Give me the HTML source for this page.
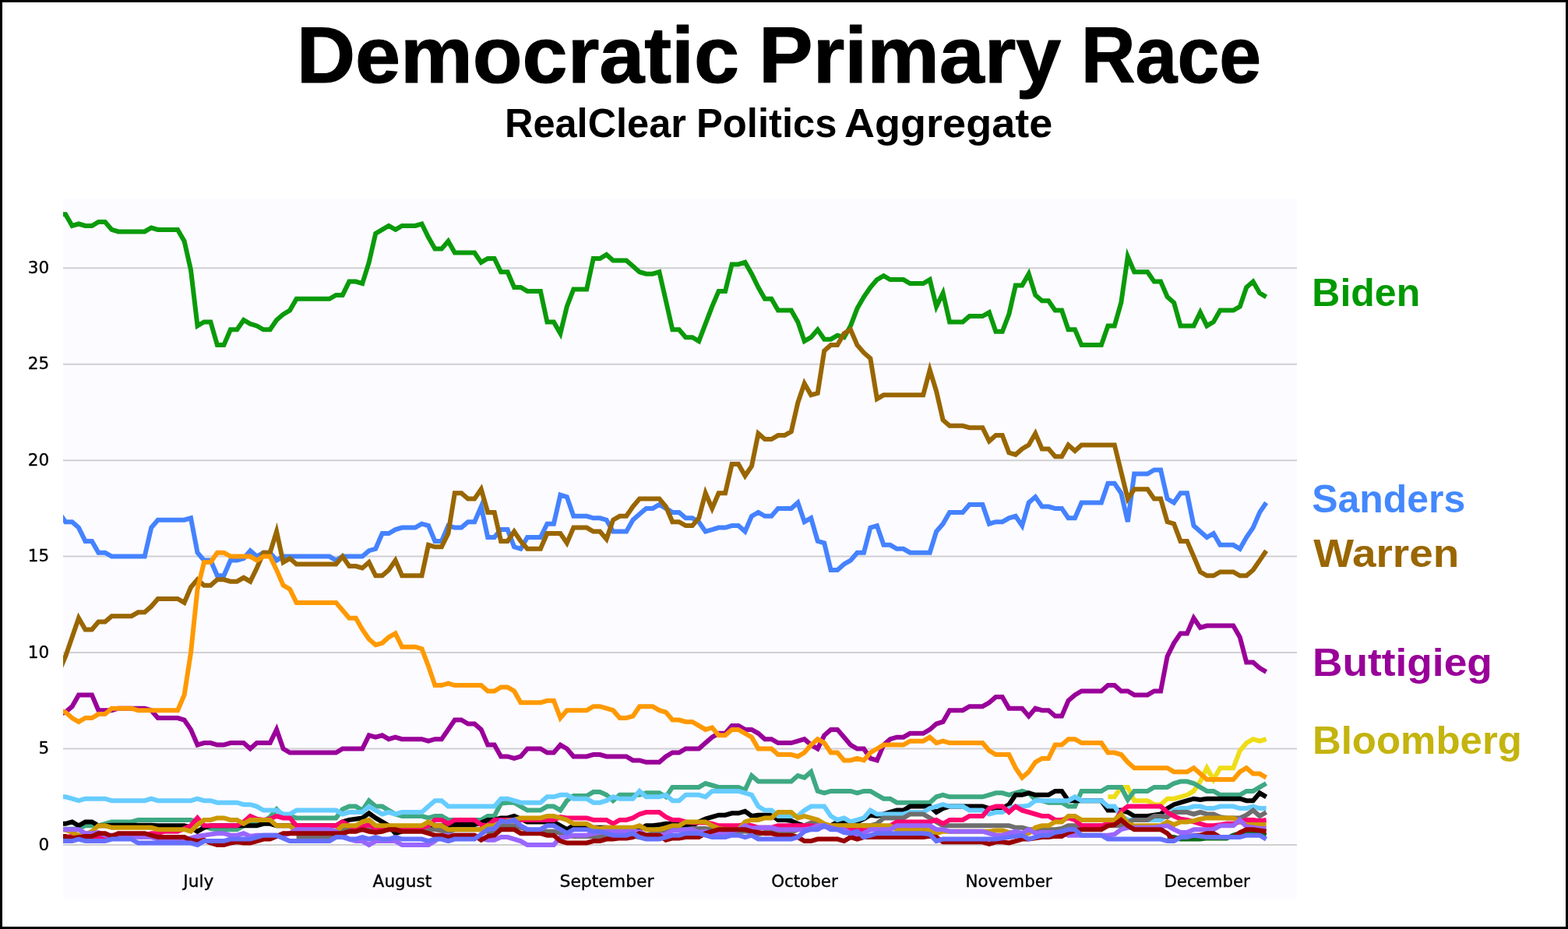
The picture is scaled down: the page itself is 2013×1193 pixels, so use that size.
<!DOCTYPE html>
<html lang="en"><head><meta charset="utf-8"><title>Democratic Primary Race</title>
<style>
html,body{margin:0;padding:0;background:#fff;}
body{width:2013px;height:1193px;overflow:hidden;}
svg{display:block;}
.title{font-family:"Liberation Sans","DejaVu Sans",sans-serif;font-weight:bold;fill:#000;stroke:#000;stroke-linejoin:round;}
.tick{font-family:"DejaVu Sans","Liberation Sans",sans-serif;font-size:21.5px;fill:#000;stroke:#000;stroke-width:0.35;}
.lab{font-family:"Liberation Sans","DejaVu Sans",sans-serif;font-weight:bold;font-size:49.6px;}
.ln{fill:none;stroke-width:6.0;stroke-linejoin:miter;stroke-linecap:butt;}
.grid{stroke:#d0d0d3;stroke-width:2;}
</style></head><body>
<svg width="2013" height="1193" viewBox="0 0 2013 1193">
<rect x="0" y="0" width="2013" height="1193" fill="#ffffff"/>
<rect x="81" y="255" width="1584" height="900" fill="#fcfbff"/>
<line class="grid" x1="81" x2="1665" y1="1085.0" y2="1085.0"/>
<text class="tick" x="63.2" y="1091.6" text-anchor="end">0</text>
<line class="grid" x1="81" x2="1665" y1="961.5" y2="961.5"/>
<text class="tick" x="63.2" y="968.1" text-anchor="end">5</text>
<line class="grid" x1="81" x2="1665" y1="838.1" y2="838.1"/>
<text class="tick" x="63.2" y="844.7" text-anchor="end">10</text>
<line class="grid" x1="81" x2="1665" y1="714.6" y2="714.6"/>
<text class="tick" x="63.2" y="721.2" text-anchor="end">15</text>
<line class="grid" x1="81" x2="1665" y1="591.2" y2="591.2"/>
<text class="tick" x="63.2" y="597.8" text-anchor="end">20</text>
<line class="grid" x1="81" x2="1665" y1="467.8" y2="467.8"/>
<text class="tick" x="63.2" y="474.4" text-anchor="end">25</text>
<line class="grid" x1="81" x2="1665" y1="344.3" y2="344.3"/>
<text class="tick" x="63.2" y="350.9" text-anchor="end">30</text>
<text class="tick" x="235.3" y="1138.6" textLength="38.9" lengthAdjust="spacingAndGlyphs">July</text>
<text class="tick" x="478.6" y="1138.6" textLength="75.7" lengthAdjust="spacingAndGlyphs">August</text>
<text class="tick" x="718.5" y="1138.6" textLength="121.0" lengthAdjust="spacingAndGlyphs">September</text>
<text class="tick" x="990.2" y="1138.6" textLength="85.5" lengthAdjust="spacingAndGlyphs">October</text>
<text class="tick" x="1239.6" y="1138.6" textLength="111.0" lengthAdjust="spacingAndGlyphs">November</text>
<text class="tick" x="1494.4" y="1138.6" textLength="110.4" lengthAdjust="spacingAndGlyphs">December</text>
<clipPath id="c"><rect x="81" y="255" width="1584" height="900"/></clipPath>
<g clip-path="url(#c)">
<polyline class="ln" stroke="#0a9a0a" points="75.6,275.2 84.1,275.2 92.6,290.0 101.0,287.5 109.5,290.0 118.0,290.0 126.4,285.0 134.9,285.0 143.4,294.9 151.9,297.4 160.3,297.4 168.8,297.4 177.3,297.4 185.7,297.4 194.2,292.5 202.7,294.9 211.2,294.9 219.6,294.9 228.1,294.9 236.6,309.7 245.0,346.8 253.5,418.4 262.0,413.4 270.4,413.4 278.9,443.1 287.4,443.1 295.9,423.3 304.3,423.3 312.8,411.0 321.3,415.9 329.7,418.4 338.2,423.3 346.7,423.3 355.1,411.0 363.6,403.6 372.1,398.6 380.6,383.8 389.0,383.8 397.5,383.8 406.0,383.8 414.4,383.8 422.9,383.8 431.4,378.9 439.8,378.9 448.3,361.6 456.8,361.6 465.2,364.1 473.7,336.9 482.2,299.9 490.7,294.9 499.1,290.0 507.6,294.9 516.1,290.0 524.5,290.0 533.0,290.0 541.5,287.5 550.0,304.8 558.4,319.6 566.9,319.6 575.4,309.7 583.8,324.5 592.3,324.5 600.8,324.5 609.2,324.5 617.7,336.9 626.2,332.0 634.7,332.0 643.1,349.2 651.6,349.2 660.1,369.0 668.5,369.0 677.0,373.9 685.5,373.9 693.9,373.9 702.4,413.4 710.9,413.4 719.4,428.2 727.8,393.7 736.3,371.5 744.8,371.5 753.2,371.5 761.7,332.0 770.2,332.0 778.6,327.0 787.1,334.4 795.6,334.4 804.1,334.4 812.5,341.8 821.0,349.2 829.5,351.7 837.9,351.7 846.4,349.2 854.9,386.3 863.3,423.3 871.8,423.3 880.3,433.2 888.8,433.2 897.2,438.1 905.7,415.9 914.2,393.7 922.6,373.9 931.1,373.9 939.6,339.4 948.0,339.4 956.5,336.9 965.0,351.7 973.5,369.0 981.9,383.8 990.4,383.8 998.9,398.6 1007.3,398.6 1015.8,398.6 1024.3,413.4 1032.7,438.1 1041.2,433.2 1049.7,423.3 1058.2,435.7 1066.6,435.7 1075.1,430.7 1083.6,433.2 1092.0,418.4 1100.5,396.1 1109.0,381.3 1117.4,369.0 1125.9,359.1 1134.4,354.2 1142.8,359.1 1151.3,359.1 1159.8,359.1 1168.3,364.1 1176.7,364.1 1185.2,364.1 1193.7,359.1 1202.1,393.7 1210.6,376.4 1219.1,413.4 1227.6,413.4 1236.0,413.4 1244.5,406.0 1253.0,406.0 1261.4,406.0 1269.9,401.1 1278.4,425.8 1286.8,425.8 1295.3,403.6 1303.8,366.5 1312.2,366.5 1320.7,351.7 1329.2,378.9 1337.7,386.3 1346.1,386.3 1354.6,398.6 1363.1,398.6 1371.5,423.3 1380.0,423.3 1388.5,443.1 1397.0,443.1 1405.4,443.1 1413.9,443.1 1422.4,418.4 1430.8,418.4 1439.3,388.7 1447.8,329.5 1456.2,349.2 1464.7,349.2 1473.2,349.2 1481.7,361.6 1490.1,361.6 1498.6,381.3 1507.1,388.7 1515.5,418.4 1524.0,418.4 1532.5,418.4 1540.9,401.1 1549.4,418.4 1557.9,413.4 1566.4,398.6 1574.8,398.6 1583.3,398.6 1591.8,393.7 1600.2,369.0 1608.7,361.6 1617.2,376.4 1625.6,381.3"/>
<polyline class="ln" stroke="#eedd16" points="1422.4,1023.3 1430.8,1023.3 1439.3,1010.9 1447.8,1010.9 1456.2,1028.2 1464.7,1028.2 1473.2,1028.2 1481.7,1033.2 1490.1,1033.2 1498.6,1025.7 1507.1,1025.7 1515.5,1023.3 1524.0,1020.8 1532.5,1015.9 1540.9,1003.5 1549.4,986.2 1557.9,1001.1 1566.4,986.2 1574.8,986.2 1583.3,986.2 1591.8,964.0 1600.2,954.1 1608.7,949.2 1617.2,951.7 1625.6,949.2"/>
<polyline class="ln" stroke="#4482ff" points="75.6,657.9 84.1,670.2 92.6,670.2 101.0,677.6 109.5,694.9 118.0,694.9 126.4,709.7 134.9,709.7 143.4,714.6 151.9,714.6 160.3,714.6 168.8,714.6 177.3,714.6 185.7,714.6 194.2,677.6 202.7,667.7 211.2,667.7 219.6,667.7 228.1,667.7 236.6,667.7 245.0,665.3 253.5,709.7 262.0,719.6 270.4,719.6 278.9,739.3 287.4,739.3 295.9,719.6 304.3,719.6 312.8,717.1 321.3,707.2 329.7,714.6 338.2,709.7 346.7,709.7 355.1,719.6 363.6,714.6 372.1,714.6 380.6,714.6 389.0,714.6 397.5,714.6 406.0,714.6 414.4,714.6 422.9,714.6 431.4,719.6 439.8,714.6 448.3,714.6 456.8,714.6 465.2,714.6 473.7,707.2 482.2,704.8 490.7,685.0 499.1,685.0 507.6,680.1 516.1,677.6 524.5,677.6 533.0,677.6 541.5,672.7 550.0,675.1 558.4,694.9 566.9,694.9 575.4,675.1 583.8,677.6 592.3,677.6 600.8,670.2 609.2,670.2 617.7,650.5 626.2,690.0 634.7,690.0 643.1,680.1 651.6,680.1 660.1,702.3 668.5,704.8 677.0,690.0 685.5,690.0 693.9,690.0 702.4,672.7 710.9,672.7 719.4,635.6 727.8,638.1 736.3,662.8 744.8,662.8 753.2,662.8 761.7,665.3 770.2,665.3 778.6,667.7 787.1,682.6 795.6,682.6 804.1,682.6 812.5,667.7 821.0,660.3 829.5,652.9 837.9,652.9 846.4,648.0 854.9,652.9 863.3,657.9 871.8,657.9 880.3,665.3 888.8,665.3 897.2,670.2 905.7,682.6 914.2,680.1 922.6,677.6 931.1,677.6 939.6,675.1 948.0,675.1 956.5,682.6 965.0,662.8 973.5,657.9 981.9,662.8 990.4,662.8 998.9,652.9 1007.3,652.9 1015.8,652.9 1024.3,645.5 1032.7,670.2 1041.2,665.3 1049.7,694.9 1058.2,697.4 1066.6,731.9 1075.1,731.9 1083.6,724.5 1092.0,719.6 1100.5,709.7 1109.0,709.7 1117.4,677.6 1125.9,675.1 1134.4,699.8 1142.8,699.8 1151.3,704.8 1159.8,704.8 1168.3,709.7 1176.7,709.7 1185.2,709.7 1193.7,709.7 1202.1,682.6 1210.6,672.7 1219.1,657.9 1227.6,657.9 1236.0,657.9 1244.5,648.0 1253.0,648.0 1261.4,648.0 1269.9,672.7 1278.4,670.2 1286.8,670.2 1295.3,665.3 1303.8,662.8 1312.2,675.1 1320.7,645.5 1329.2,638.1 1337.7,650.5 1346.1,650.5 1354.6,652.9 1363.1,652.9 1371.5,665.3 1380.0,665.3 1388.5,645.5 1397.0,645.5 1405.4,645.5 1413.9,645.5 1422.4,620.8 1430.8,620.8 1439.3,633.2 1447.8,670.2 1456.2,608.5 1464.7,608.5 1473.2,608.5 1481.7,603.5 1490.1,603.5 1498.6,640.6 1507.1,645.5 1515.5,633.2 1524.0,633.2 1532.5,675.1 1540.9,682.6 1549.4,690.0 1557.9,685.0 1566.4,699.8 1574.8,699.8 1583.3,699.8 1591.8,704.8 1600.2,690.0 1608.7,677.6 1617.2,657.9 1625.6,645.5"/>
<polyline class="ln" stroke="#996600" points="75.6,862.8 84.1,843.0 92.6,818.3 101.0,793.7 109.5,808.5 118.0,808.5 126.4,798.6 134.9,798.6 143.4,791.2 151.9,791.2 160.3,791.2 168.8,791.2 177.3,786.3 185.7,786.3 194.2,778.8 202.7,769.0 211.2,769.0 219.6,769.0 228.1,769.0 236.6,773.9 245.0,754.2 253.5,744.3 262.0,751.7 270.4,751.7 278.9,744.3 287.4,744.3 295.9,746.7 304.3,746.7 312.8,741.8 321.3,746.7 329.7,729.5 338.2,709.7 346.7,709.7 355.1,682.6 363.6,722.1 372.1,717.1 380.6,724.5 389.0,724.5 397.5,724.5 406.0,724.5 414.4,724.5 422.9,724.5 431.4,724.5 439.8,714.6 448.3,727.0 456.8,727.0 465.2,729.5 473.7,722.1 482.2,739.3 490.7,739.3 499.1,731.9 507.6,719.6 516.1,739.3 524.5,739.3 533.0,739.3 541.5,739.3 550.0,699.8 558.4,702.3 566.9,702.3 575.4,685.0 583.8,633.2 592.3,633.2 600.8,640.6 609.2,640.6 617.7,628.2 626.2,657.9 634.7,657.9 643.1,694.9 651.6,694.9 660.1,682.6 668.5,694.9 677.0,704.8 685.5,704.8 693.9,704.8 702.4,685.0 710.9,685.0 719.4,685.0 727.8,697.4 736.3,677.6 744.8,677.6 753.2,677.6 761.7,682.6 770.2,682.6 778.6,692.4 787.1,667.7 795.6,662.8 804.1,662.8 812.5,650.5 821.0,640.6 829.5,640.6 837.9,640.6 846.4,640.6 854.9,650.5 863.3,670.2 871.8,670.2 880.3,675.1 888.8,675.1 897.2,665.3 905.7,633.2 914.2,652.9 922.6,633.2 931.1,633.2 939.6,596.1 948.0,596.1 956.5,611.0 965.0,598.6 973.5,556.6 981.9,564.0 990.4,564.0 998.9,559.1 1007.3,559.1 1015.8,554.2 1024.3,517.1 1032.7,492.4 1041.2,507.3 1049.7,504.8 1058.2,450.5 1066.6,443.1 1075.1,443.1 1083.6,428.2 1092.0,423.3 1100.5,443.1 1109.0,452.9 1117.4,460.3 1125.9,512.2 1134.4,507.3 1142.8,507.3 1151.3,507.3 1159.8,507.3 1168.3,507.3 1176.7,507.3 1185.2,507.3 1193.7,475.2 1202.1,502.3 1210.6,539.4 1219.1,546.8 1227.6,546.8 1236.0,546.8 1244.5,549.2 1253.0,549.2 1261.4,549.2 1269.9,566.5 1278.4,559.1 1286.8,559.1 1295.3,581.3 1303.8,583.8 1312.2,576.4 1320.7,571.4 1329.2,556.6 1337.7,576.4 1346.1,576.4 1354.6,586.3 1363.1,586.3 1371.5,571.4 1380.0,578.9 1388.5,571.4 1397.0,571.4 1405.4,571.4 1413.9,571.4 1422.4,571.4 1430.8,571.4 1439.3,606.0 1447.8,640.6 1456.2,628.2 1464.7,628.2 1473.2,628.2 1481.7,640.6 1490.1,640.6 1498.6,670.2 1507.1,672.7 1515.5,694.9 1524.0,694.9 1532.5,714.6 1540.9,734.4 1549.4,739.3 1557.9,739.3 1566.4,734.4 1574.8,734.4 1583.3,734.4 1591.8,739.3 1600.2,739.3 1608.7,731.9 1617.2,719.6 1625.6,707.2"/>
<polyline class="ln" stroke="#990099" points="75.6,917.1 84.1,914.6 92.6,907.2 101.0,892.4 109.5,892.4 118.0,892.4 126.4,912.2 134.9,912.2 143.4,912.2 151.9,909.7 160.3,909.7 168.8,909.7 177.3,909.7 185.7,909.7 194.2,912.2 202.7,922.0 211.2,922.0 219.6,922.0 228.1,922.0 236.6,924.5 245.0,936.9 253.5,956.6 262.0,954.1 270.4,954.1 278.9,956.6 287.4,956.6 295.9,954.1 304.3,954.1 312.8,954.1 321.3,961.5 329.7,954.1 338.2,954.1 346.7,954.1 355.1,936.9 363.6,961.5 372.1,966.5 380.6,966.5 389.0,966.5 397.5,966.5 406.0,966.5 414.4,966.5 422.9,966.5 431.4,966.5 439.8,961.5 448.3,961.5 456.8,961.5 465.2,961.5 473.7,944.3 482.2,946.7 490.7,944.3 499.1,949.2 507.6,946.7 516.1,949.2 524.5,949.2 533.0,949.2 541.5,949.2 550.0,951.7 558.4,949.2 566.9,949.2 575.4,936.9 583.8,924.5 592.3,924.5 600.8,929.5 609.2,929.5 617.7,936.9 626.2,956.6 634.7,956.6 643.1,971.4 651.6,971.4 660.1,973.9 668.5,971.4 677.0,961.5 685.5,961.5 693.9,961.5 702.4,966.5 710.9,966.5 719.4,956.6 727.8,961.5 736.3,971.4 744.8,971.4 753.2,971.4 761.7,969.0 770.2,969.0 778.6,971.4 787.1,971.4 795.6,971.4 804.1,971.4 812.5,976.4 821.0,976.4 829.5,978.8 837.9,978.8 846.4,978.8 854.9,971.4 863.3,966.5 871.8,966.5 880.3,961.5 888.8,961.5 897.2,961.5 905.7,954.1 914.2,946.7 922.6,941.8 931.1,941.8 939.6,931.9 948.0,931.9 956.5,936.9 965.0,936.9 973.5,941.8 981.9,949.2 990.4,949.2 998.9,954.1 1007.3,954.1 1015.8,954.1 1024.3,951.7 1032.7,949.2 1041.2,956.6 1049.7,961.5 1058.2,944.3 1066.6,936.9 1075.1,936.9 1083.6,946.7 1092.0,956.6 1100.5,961.5 1109.0,961.5 1117.4,973.9 1125.9,976.4 1134.4,956.6 1142.8,949.2 1151.3,946.7 1159.8,946.7 1168.3,941.8 1176.7,941.8 1185.2,941.8 1193.7,936.9 1202.1,929.5 1210.6,927.0 1219.1,912.2 1227.6,912.2 1236.0,912.2 1244.5,907.2 1253.0,907.2 1261.4,907.2 1269.9,902.3 1278.4,894.9 1286.8,894.9 1295.3,909.7 1303.8,909.7 1312.2,909.7 1320.7,919.6 1329.2,909.7 1337.7,912.2 1346.1,912.2 1354.6,919.6 1363.1,919.6 1371.5,899.8 1380.0,892.4 1388.5,887.5 1397.0,887.5 1405.4,887.5 1413.9,887.5 1422.4,880.1 1430.8,880.1 1439.3,887.5 1447.8,887.5 1456.2,892.4 1464.7,892.4 1473.2,892.4 1481.7,887.5 1490.1,887.5 1498.6,843.0 1507.1,825.8 1515.5,813.4 1524.0,813.4 1532.5,793.7 1540.9,806.0 1549.4,803.5 1557.9,803.5 1566.4,803.5 1574.8,803.5 1583.3,803.5 1591.8,818.3 1600.2,850.4 1608.7,850.4 1617.2,857.9 1625.6,862.8"/>
<polyline class="ln" stroke="#ff9900" points="75.6,912.2 84.1,914.6 92.6,922.0 101.0,927.0 109.5,922.0 118.0,922.0 126.4,917.1 134.9,917.1 143.4,909.7 151.9,909.7 160.3,909.7 168.8,909.7 177.3,912.2 185.7,912.2 194.2,912.2 202.7,912.2 211.2,912.2 219.6,912.2 228.1,912.2 236.6,892.4 245.0,838.1 253.5,756.6 262.0,722.1 270.4,722.1 278.9,709.7 287.4,709.7 295.9,714.6 304.3,714.6 312.8,714.6 321.3,714.6 329.7,719.6 338.2,714.6 346.7,714.6 355.1,731.9 363.6,751.7 372.1,756.6 380.6,773.9 389.0,773.9 397.5,773.9 406.0,773.9 414.4,773.9 422.9,773.9 431.4,773.9 439.8,783.8 448.3,793.7 456.8,793.7 465.2,808.5 473.7,820.8 482.2,828.2 490.7,825.8 499.1,818.3 507.6,813.4 516.1,830.7 524.5,830.7 533.0,830.7 541.5,833.2 550.0,855.4 558.4,880.1 566.9,880.1 575.4,877.6 583.8,880.1 592.3,880.1 600.8,880.1 609.2,880.1 617.7,880.1 626.2,887.5 634.7,887.5 643.1,882.5 651.6,882.5 660.1,887.5 668.5,902.3 677.0,902.3 685.5,902.3 693.9,902.3 702.4,899.8 710.9,899.8 719.4,922.0 727.8,912.2 736.3,912.2 744.8,912.2 753.2,912.2 761.7,907.2 770.2,907.2 778.6,909.7 787.1,912.2 795.6,922.0 804.1,922.0 812.5,919.6 821.0,907.2 829.5,907.2 837.9,907.2 846.4,912.2 854.9,914.6 863.3,924.5 871.8,924.5 880.3,927.0 888.8,927.0 897.2,931.9 905.7,936.9 914.2,934.4 922.6,944.3 931.1,944.3 939.6,936.9 948.0,936.9 956.5,941.8 965.0,946.7 973.5,961.5 981.9,961.5 990.4,961.5 998.9,969.0 1007.3,969.0 1015.8,969.0 1024.3,971.4 1032.7,966.5 1041.2,956.6 1049.7,949.2 1058.2,954.1 1066.6,966.5 1075.1,966.5 1083.6,976.4 1092.0,976.4 1100.5,973.9 1109.0,976.4 1117.4,966.5 1125.9,961.5 1134.4,956.6 1142.8,956.6 1151.3,956.6 1159.8,956.6 1168.3,951.7 1176.7,951.7 1185.2,951.7 1193.7,946.7 1202.1,954.1 1210.6,951.7 1219.1,954.1 1227.6,954.1 1236.0,954.1 1244.5,954.1 1253.0,954.1 1261.4,954.1 1269.9,964.0 1278.4,969.0 1286.8,969.0 1295.3,969.0 1303.8,986.2 1312.2,998.6 1320.7,991.2 1329.2,978.8 1337.7,973.9 1346.1,973.9 1354.6,956.6 1363.1,956.6 1371.5,949.2 1380.0,949.2 1388.5,954.1 1397.0,954.1 1405.4,954.1 1413.9,954.1 1422.4,966.5 1430.8,966.5 1439.3,969.0 1447.8,978.8 1456.2,986.2 1464.7,986.2 1473.2,986.2 1481.7,986.2 1490.1,986.2 1498.6,986.2 1507.1,991.2 1515.5,991.2 1524.0,991.2 1532.5,986.2 1540.9,993.6 1549.4,1001.1 1557.9,1001.1 1566.4,1001.1 1574.8,1001.1 1583.3,1001.1 1591.8,991.2 1600.2,986.2 1608.7,993.6 1617.2,993.6 1625.6,998.6"/>
<polyline class="ln" stroke="#3ea983" points="75.6,1064.8 84.1,1064.8 92.6,1064.8 101.0,1064.0 109.5,1060.3 118.0,1060.3 126.4,1060.3 134.9,1057.8 143.4,1055.4 151.9,1055.4 160.3,1055.4 168.8,1055.4 177.3,1052.9 185.7,1052.9 194.2,1052.9 202.7,1052.9 211.2,1052.9 219.6,1052.9 228.1,1052.9 236.6,1052.9 245.0,1052.9 253.5,1055.4 262.0,1060.3 270.4,1064.0 278.9,1065.2 287.4,1065.2 295.9,1065.2 304.3,1065.2 312.8,1060.3 321.3,1055.4 329.7,1055.4 338.2,1055.4 346.7,1049.2 355.1,1039.3 363.6,1048.0 372.1,1048.0 380.6,1050.4 389.0,1050.4 397.5,1050.4 406.0,1050.4 414.4,1050.4 422.9,1050.4 431.4,1050.4 439.8,1039.3 448.3,1035.6 456.8,1035.6 465.2,1040.6 473.7,1028.2 482.2,1035.6 490.7,1035.6 499.1,1040.6 507.6,1045.5 516.1,1048.0 524.5,1048.0 533.0,1048.0 541.5,1048.0 550.0,1050.4 558.4,1048.0 566.9,1048.0 575.4,1052.9 583.8,1052.9 592.3,1052.9 600.8,1052.9 609.2,1052.9 617.7,1052.9 626.2,1048.0 634.7,1048.0 643.1,1031.9 651.6,1030.7 660.1,1030.7 668.5,1035.6 677.0,1040.6 685.5,1040.6 693.9,1040.6 702.4,1035.6 710.9,1035.6 719.4,1040.6 727.8,1028.2 736.3,1022.0 744.8,1022.0 753.2,1022.0 761.7,1017.1 770.2,1017.1 778.6,1020.8 787.1,1028.2 795.6,1020.8 804.1,1020.8 812.5,1020.8 821.0,1020.8 829.5,1018.3 837.9,1018.3 846.4,1018.3 854.9,1023.3 863.3,1010.9 871.8,1010.9 880.3,1010.9 888.8,1010.9 897.2,1010.9 905.7,1006.0 914.2,1008.5 922.6,1010.9 931.1,1010.9 939.6,1010.9 948.0,1010.9 956.5,1014.6 965.0,996.1 973.5,1003.5 981.9,1003.5 990.4,1003.5 998.9,1003.5 1007.3,1003.5 1015.8,1003.5 1024.3,996.1 1032.7,998.6 1041.2,991.2 1049.7,1015.9 1058.2,1018.3 1066.6,1015.9 1075.1,1015.9 1083.6,1015.9 1092.0,1015.9 1100.5,1018.3 1109.0,1015.9 1117.4,1015.9 1125.9,1020.8 1134.4,1025.7 1142.8,1025.7 1151.3,1030.7 1159.8,1030.7 1168.3,1030.7 1176.7,1030.7 1185.2,1030.7 1193.7,1030.7 1202.1,1023.3 1210.6,1020.8 1219.1,1023.3 1227.6,1023.3 1236.0,1023.3 1244.5,1023.3 1253.0,1023.3 1261.4,1023.3 1269.9,1020.8 1278.4,1018.3 1286.8,1018.3 1295.3,1020.8 1303.8,1018.3 1312.2,1015.9 1320.7,1018.3 1329.2,1027.0 1337.7,1028.2 1346.1,1030.7 1354.6,1030.7 1363.1,1030.7 1371.5,1035.6 1380.0,1035.6 1388.5,1015.9 1397.0,1015.9 1405.4,1015.9 1413.9,1015.9 1422.4,1010.9 1430.8,1010.9 1439.3,1010.9 1447.8,1027.0 1456.2,1015.9 1464.7,1015.9 1473.2,1015.9 1481.7,1010.9 1490.1,1010.9 1498.6,1010.9 1507.1,1006.0 1515.5,1003.5 1524.0,1003.5 1532.5,1006.0 1540.9,1010.9 1549.4,1015.9 1557.9,1015.9 1566.4,1020.8 1574.8,1020.8 1583.3,1020.8 1591.8,1020.8 1600.2,1015.9 1608.7,1015.9 1617.2,1010.9 1625.6,1006.0"/>
<polyline class="ln" stroke="#000000" points="75.6,1057.8 84.1,1057.8 92.6,1055.4 101.0,1060.3 109.5,1055.4 118.0,1055.4 126.4,1060.3 134.9,1060.3 143.4,1059.8 151.9,1059.8 160.3,1059.8 168.8,1059.8 177.3,1059.8 185.7,1059.8 194.2,1059.8 202.7,1060.3 211.2,1060.3 219.6,1060.3 228.1,1060.3 236.6,1060.3 245.0,1062.8 253.5,1067.7 262.0,1062.8 270.4,1060.3 278.9,1060.3 287.4,1060.3 295.9,1060.3 304.3,1060.3 312.8,1060.3 321.3,1060.3 329.7,1060.3 338.2,1057.8 346.7,1057.8 355.1,1060.3 363.6,1060.3 372.1,1060.3 380.6,1060.3 389.0,1060.3 397.5,1060.3 406.0,1060.3 414.4,1060.3 422.9,1060.3 431.4,1060.3 439.8,1055.4 448.3,1052.9 456.8,1051.7 465.2,1050.4 473.7,1044.3 482.2,1050.4 490.7,1055.4 499.1,1060.3 507.6,1070.2 516.1,1067.7 524.5,1065.2 533.0,1065.2 541.5,1065.2 550.0,1065.2 558.4,1060.3 566.9,1060.3 575.4,1060.3 583.8,1059.1 592.3,1059.1 600.8,1059.1 609.2,1059.1 617.7,1056.6 626.2,1052.9 634.7,1052.9 643.1,1050.4 651.6,1050.4 660.1,1048.0 668.5,1051.7 677.0,1055.4 685.5,1055.4 693.9,1055.4 702.4,1055.4 710.9,1055.4 719.4,1060.3 727.8,1065.2 736.3,1060.3 744.8,1062.8 753.2,1062.8 761.7,1062.8 770.2,1062.8 778.6,1062.8 787.1,1066.5 795.6,1066.5 804.1,1066.5 812.5,1066.5 821.0,1065.2 829.5,1060.3 837.9,1060.3 846.4,1059.1 854.9,1057.8 863.3,1057.8 871.8,1059.1 880.3,1060.3 888.8,1060.3 897.2,1055.4 905.7,1051.7 914.2,1049.2 922.6,1046.7 931.1,1046.7 939.6,1044.3 948.0,1044.3 956.5,1041.8 965.0,1048.0 973.5,1046.7 981.9,1046.7 990.4,1046.7 998.9,1052.9 1007.3,1052.9 1015.8,1054.1 1024.3,1057.8 1032.7,1060.3 1041.2,1060.3 1049.7,1060.3 1058.2,1060.3 1066.6,1060.3 1075.1,1055.4 1083.6,1055.4 1092.0,1057.8 1100.5,1055.4 1109.0,1051.7 1117.4,1046.7 1125.9,1048.0 1134.4,1045.5 1142.8,1043.0 1151.3,1040.6 1159.8,1040.6 1168.3,1035.6 1176.7,1035.6 1185.2,1035.6 1193.7,1035.6 1202.1,1043.0 1210.6,1038.1 1219.1,1035.6 1227.6,1035.6 1236.0,1035.6 1244.5,1035.6 1253.0,1035.6 1261.4,1035.6 1269.9,1038.1 1278.4,1038.1 1286.8,1038.1 1295.3,1033.2 1303.8,1020.8 1312.2,1020.8 1320.7,1018.3 1329.2,1020.8 1337.7,1020.8 1346.1,1020.8 1354.6,1015.9 1363.1,1015.9 1371.5,1028.2 1380.0,1028.2 1388.5,1028.2 1397.0,1028.2 1405.4,1028.2 1413.9,1028.2 1422.4,1040.6 1430.8,1040.6 1439.3,1040.6 1447.8,1043.0 1456.2,1048.0 1464.7,1048.0 1473.2,1048.0 1481.7,1046.7 1490.1,1045.5 1498.6,1038.1 1507.1,1033.2 1515.5,1030.7 1524.0,1028.2 1532.5,1025.7 1540.9,1027.0 1549.4,1025.7 1557.9,1025.7 1566.4,1025.7 1574.8,1025.7 1583.3,1025.7 1591.8,1025.7 1600.2,1028.2 1608.7,1028.2 1617.2,1018.3 1625.6,1023.3"/>
<polyline class="ln" stroke="#66ccff" points="75.6,1023.3 84.1,1023.3 92.6,1025.7 101.0,1028.2 109.5,1025.7 118.0,1025.7 126.4,1025.7 134.9,1025.7 143.4,1028.2 151.9,1028.2 160.3,1028.2 168.8,1028.2 177.3,1028.2 185.7,1028.2 194.2,1025.7 202.7,1028.2 211.2,1028.2 219.6,1028.2 228.1,1028.2 236.6,1028.2 245.0,1028.2 253.5,1025.7 262.0,1028.2 270.4,1028.2 278.9,1030.7 287.4,1030.7 295.9,1030.7 304.3,1030.7 312.8,1033.2 321.3,1033.2 329.7,1035.6 338.2,1040.6 346.7,1040.6 355.1,1040.6 363.6,1045.5 372.1,1045.5 380.6,1040.6 389.0,1040.6 397.5,1040.6 406.0,1040.6 414.4,1040.6 422.9,1040.6 431.4,1040.6 439.8,1045.5 448.3,1043.0 456.8,1043.0 465.2,1043.0 473.7,1035.6 482.2,1040.6 490.7,1045.5 499.1,1043.0 507.6,1045.5 516.1,1043.0 524.5,1043.0 533.0,1043.0 541.5,1043.0 550.0,1035.6 558.4,1028.2 566.9,1028.2 575.4,1035.6 583.8,1035.6 592.3,1035.6 600.8,1035.6 609.2,1035.6 617.7,1035.6 626.2,1035.6 634.7,1035.6 643.1,1025.7 651.6,1025.7 660.1,1028.2 668.5,1030.7 677.0,1030.7 685.5,1030.7 693.9,1030.7 702.4,1023.3 710.9,1023.3 719.4,1020.8 727.8,1020.8 736.3,1025.7 744.8,1025.7 753.2,1025.7 761.7,1030.7 770.2,1030.7 778.6,1028.2 787.1,1023.3 795.6,1025.7 804.1,1025.7 812.5,1025.7 821.0,1015.9 829.5,1023.3 837.9,1023.3 846.4,1023.3 854.9,1020.8 863.3,1028.2 871.8,1028.2 880.3,1020.8 888.8,1020.8 897.2,1020.8 905.7,1023.3 914.2,1015.9 922.6,1015.9 931.1,1015.9 939.6,1015.9 948.0,1015.9 956.5,1018.3 965.0,1020.8 973.5,1035.6 981.9,1040.6 990.4,1040.6 998.9,1048.0 1007.3,1048.0 1015.8,1048.0 1024.3,1048.0 1032.7,1040.6 1041.2,1035.6 1049.7,1035.6 1058.2,1035.6 1066.6,1048.0 1075.1,1052.9 1083.6,1050.4 1092.0,1055.4 1100.5,1052.9 1109.0,1050.4 1117.4,1040.6 1125.9,1045.5 1134.4,1045.5 1142.8,1045.5 1151.3,1045.5 1159.8,1045.5 1168.3,1043.0 1176.7,1043.0 1185.2,1043.0 1193.7,1038.1 1202.1,1035.6 1210.6,1033.2 1219.1,1035.6 1227.6,1035.6 1236.0,1035.6 1244.5,1040.6 1253.0,1040.6 1261.4,1040.6 1269.9,1045.5 1278.4,1043.0 1286.8,1043.0 1295.3,1038.1 1303.8,1035.6 1312.2,1035.6 1320.7,1034.4 1329.2,1028.2 1337.7,1028.2 1346.1,1028.2 1354.6,1028.2 1363.1,1028.2 1371.5,1028.2 1380.0,1023.3 1388.5,1028.2 1397.0,1028.2 1405.4,1028.2 1413.9,1028.2 1422.4,1035.6 1430.8,1035.6 1439.3,1048.0 1447.8,1052.9 1456.2,1052.9 1464.7,1052.9 1473.2,1052.9 1481.7,1052.9 1490.1,1052.9 1498.6,1045.5 1507.1,1040.6 1515.5,1038.1 1524.0,1038.1 1532.5,1035.6 1540.9,1035.6 1549.4,1038.1 1557.9,1038.1 1566.4,1035.6 1574.8,1035.6 1583.3,1035.6 1591.8,1038.1 1600.2,1038.1 1608.7,1035.6 1617.2,1038.1 1625.6,1038.1"/>
<polyline class="ln" stroke="#6e6e6e" points="380.6,1073.9 389.0,1073.9 397.5,1073.9 406.0,1073.9 414.4,1073.9 422.9,1073.9 431.4,1070.2 439.8,1065.2 448.3,1065.2 456.8,1065.2 465.2,1065.2 473.7,1065.2 482.2,1065.2 490.7,1065.2 499.1,1065.2 507.6,1065.2 516.1,1065.2 524.5,1065.2 533.0,1065.2 541.5,1065.2 550.0,1065.2 558.4,1065.2 566.9,1066.5 575.4,1069.0 583.8,1065.2 592.3,1065.2 600.8,1065.2 609.2,1065.2 617.7,1065.2 626.2,1067.7 634.7,1069.0 643.1,1060.3 651.6,1060.3 660.1,1060.3 668.5,1062.8 677.0,1065.2 685.5,1066.5 693.9,1067.7 702.4,1067.7 710.9,1067.7 719.4,1070.2 727.8,1072.7 736.3,1073.9 744.8,1073.9 753.2,1073.9 761.7,1073.9 770.2,1073.9 778.6,1073.9 787.1,1073.9 795.6,1073.9 804.1,1073.9 812.5,1073.9 821.0,1075.1 829.5,1072.7 837.9,1070.2 846.4,1070.2 854.9,1069.0 863.3,1065.2 871.8,1065.2 880.3,1065.2 888.8,1064.0 897.2,1064.0 905.7,1064.0 914.2,1065.2 922.6,1067.7 931.1,1067.7 939.6,1067.7 948.0,1067.7 956.5,1067.7 965.0,1067.7 973.5,1071.4 981.9,1069.0 990.4,1069.0 998.9,1069.0 1007.3,1069.0 1015.8,1069.0 1024.3,1065.2 1032.7,1060.3 1041.2,1056.6 1049.7,1056.6 1058.2,1060.3 1066.6,1060.3 1075.1,1060.3 1083.6,1060.3 1092.0,1060.3 1100.5,1060.3 1109.0,1060.3 1117.4,1060.3 1125.9,1057.8 1134.4,1050.4 1142.8,1050.4 1151.3,1050.4 1159.8,1050.4 1168.3,1045.5 1176.7,1045.5 1185.2,1045.5 1193.7,1050.4 1202.1,1055.4 1210.6,1060.3 1219.1,1060.3 1227.6,1060.3 1236.0,1060.3 1244.5,1060.3 1253.0,1060.3 1261.4,1060.3 1269.9,1060.3 1278.4,1060.3 1286.8,1060.3 1295.3,1060.3 1303.8,1062.8 1312.2,1062.8 1320.7,1065.2 1329.2,1065.2 1337.7,1065.2 1346.1,1065.2 1354.6,1065.2 1363.1,1064.0 1371.5,1060.3 1380.0,1060.3 1388.5,1060.3 1397.0,1060.3 1405.4,1060.3 1413.9,1060.3 1422.4,1060.3 1430.8,1060.3 1439.3,1060.3 1447.8,1055.4 1456.2,1052.9 1464.7,1052.9 1473.2,1052.9 1481.7,1048.0 1490.1,1048.0 1498.6,1049.2 1507.1,1043.0 1515.5,1043.0 1524.0,1043.0 1532.5,1045.5 1540.9,1043.0 1549.4,1045.5 1557.9,1045.5 1566.4,1049.2 1574.8,1050.4 1583.3,1050.4 1591.8,1050.4 1600.2,1046.7 1608.7,1040.6 1617.2,1048.0 1625.6,1043.0"/>
<polyline class="ln" stroke="#ff0570" points="75.6,1075.1 84.1,1075.1 92.6,1073.9 101.0,1075.1 109.5,1075.1 118.0,1075.1 126.4,1075.1 134.9,1075.1 143.4,1072.7 151.9,1072.7 160.3,1072.7 168.8,1072.7 177.3,1072.7 185.7,1072.7 194.2,1070.2 202.7,1070.2 211.2,1067.7 219.6,1067.7 228.1,1067.7 236.6,1064.0 245.0,1060.3 253.5,1050.4 262.0,1060.3 270.4,1060.3 278.9,1060.3 287.4,1060.3 295.9,1060.3 304.3,1060.3 312.8,1055.4 321.3,1048.0 329.7,1051.7 338.2,1052.9 346.7,1051.7 355.1,1048.0 363.6,1050.4 372.1,1050.4 380.6,1060.3 389.0,1060.3 397.5,1060.3 406.0,1060.3 414.4,1060.3 422.9,1060.3 431.4,1060.3 439.8,1055.4 448.3,1060.3 456.8,1064.0 465.2,1061.5 473.7,1059.1 482.2,1064.0 490.7,1062.8 499.1,1062.8 507.6,1062.8 516.1,1062.8 524.5,1062.8 533.0,1062.8 541.5,1062.8 550.0,1060.3 558.4,1052.9 566.9,1052.9 575.4,1057.8 583.8,1052.9 592.3,1052.9 600.8,1052.9 609.2,1052.9 617.7,1059.1 626.2,1060.3 634.7,1052.9 643.1,1052.9 651.6,1052.9 660.1,1052.9 668.5,1052.9 677.0,1052.9 685.5,1052.9 693.9,1052.9 702.4,1052.9 710.9,1052.9 719.4,1049.2 727.8,1050.4 736.3,1050.4 744.8,1050.4 753.2,1050.4 761.7,1052.9 770.2,1052.9 778.6,1052.9 787.1,1057.8 795.6,1052.9 804.1,1052.9 812.5,1050.4 821.0,1045.5 829.5,1043.0 837.9,1043.0 846.4,1043.0 854.9,1049.2 863.3,1052.9 871.8,1052.9 880.3,1055.4 888.8,1056.6 897.2,1056.6 905.7,1056.6 914.2,1057.8 922.6,1060.3 931.1,1060.3 939.6,1060.3 948.0,1060.3 956.5,1059.1 965.0,1060.3 973.5,1062.8 981.9,1062.8 990.4,1062.8 998.9,1060.3 1007.3,1060.3 1015.8,1060.3 1024.3,1060.3 1032.7,1060.3 1041.2,1060.3 1049.7,1061.5 1058.2,1061.5 1066.6,1061.5 1075.1,1061.5 1083.6,1062.8 1092.0,1065.2 1100.5,1064.0 1109.0,1066.5 1117.4,1065.2 1125.9,1062.8 1134.4,1062.8 1142.8,1060.3 1151.3,1055.4 1159.8,1055.4 1168.3,1055.4 1176.7,1055.4 1185.2,1055.4 1193.7,1055.4 1202.1,1052.9 1210.6,1057.8 1219.1,1052.9 1227.6,1052.9 1236.0,1052.9 1244.5,1048.0 1253.0,1048.0 1261.4,1048.0 1269.9,1038.1 1278.4,1035.6 1286.8,1035.6 1295.3,1043.0 1303.8,1035.6 1312.2,1040.6 1320.7,1043.0 1329.2,1045.5 1337.7,1048.0 1346.1,1048.0 1354.6,1052.9 1363.1,1052.9 1371.5,1050.4 1380.0,1052.9 1388.5,1060.3 1397.0,1060.3 1405.4,1060.3 1413.9,1060.3 1422.4,1057.8 1430.8,1055.4 1439.3,1041.8 1447.8,1035.6 1456.2,1035.6 1464.7,1035.6 1473.2,1035.6 1481.7,1035.6 1490.1,1035.6 1498.6,1043.0 1507.1,1048.0 1515.5,1051.7 1524.0,1052.9 1532.5,1055.4 1540.9,1057.8 1549.4,1060.3 1557.9,1060.3 1566.4,1059.1 1574.8,1057.8 1583.3,1057.8 1591.8,1055.4 1600.2,1052.9 1608.7,1052.9 1617.2,1054.1 1625.6,1052.9"/>
<polyline class="ln" stroke="#cc9900" points="75.6,1065.2 84.1,1065.7 92.6,1068.7 101.0,1072.7 109.5,1071.4 118.0,1067.7 126.4,1060.3 134.9,1060.3 143.4,1062.8 151.9,1062.8 160.3,1062.8 168.8,1062.8 177.3,1062.8 185.7,1062.8 194.2,1062.8 202.7,1065.2 211.2,1065.2 219.6,1065.2 228.1,1065.2 236.6,1065.2 245.0,1067.7 253.5,1059.1 262.0,1052.9 270.4,1052.9 278.9,1050.4 287.4,1050.4 295.9,1052.9 304.3,1052.9 312.8,1057.8 321.3,1052.9 329.7,1052.9 338.2,1052.9 346.7,1052.9 355.1,1060.3 363.6,1060.3 372.1,1060.3 380.6,1067.7 389.0,1067.7 397.5,1067.7 406.0,1067.7 414.4,1067.7 422.9,1067.7 431.4,1067.7 439.8,1060.3 448.3,1060.3 456.8,1060.3 465.2,1055.4 473.7,1052.9 482.2,1060.3 490.7,1060.3 499.1,1060.3 507.6,1060.3 516.1,1060.3 524.5,1060.3 533.0,1060.3 541.5,1060.3 550.0,1055.4 558.4,1060.3 566.9,1060.3 575.4,1065.2 583.8,1065.2 592.3,1065.2 600.8,1065.2 609.2,1065.2 617.7,1065.2 626.2,1060.3 634.7,1060.3 643.1,1055.4 651.6,1054.1 660.1,1052.9 668.5,1050.4 677.0,1050.4 685.5,1050.4 693.9,1050.4 702.4,1048.0 710.9,1048.0 719.4,1050.4 727.8,1052.9 736.3,1057.8 744.8,1057.8 753.2,1057.8 761.7,1062.8 770.2,1064.0 778.6,1062.8 787.1,1062.8 795.6,1062.8 804.1,1062.8 812.5,1062.8 821.0,1060.3 829.5,1065.2 837.9,1065.2 846.4,1065.2 854.9,1062.8 863.3,1060.3 871.8,1060.3 880.3,1055.4 888.8,1055.4 897.2,1055.4 905.7,1055.4 914.2,1060.3 922.6,1064.0 931.1,1065.2 939.6,1065.2 948.0,1065.2 956.5,1055.4 965.0,1052.9 973.5,1052.9 981.9,1050.4 990.4,1050.4 998.9,1043.0 1007.3,1043.0 1015.8,1043.0 1024.3,1050.4 1032.7,1048.0 1041.2,1050.4 1049.7,1052.9 1058.2,1057.8 1066.6,1060.3 1075.1,1060.3 1083.6,1060.3 1092.0,1060.3 1100.5,1060.3 1109.0,1060.3 1117.4,1060.3 1125.9,1060.3 1134.4,1060.3 1142.8,1060.3 1151.3,1065.2 1159.8,1065.2 1168.3,1065.2 1176.7,1065.2 1185.2,1065.2 1193.7,1066.5 1202.1,1070.2 1210.6,1067.7 1219.1,1067.7 1227.6,1067.7 1236.0,1067.7 1244.5,1067.7 1253.0,1067.7 1261.4,1067.7 1269.9,1067.7 1278.4,1066.5 1286.8,1066.5 1295.3,1069.0 1303.8,1070.2 1312.2,1071.4 1320.7,1070.2 1329.2,1062.8 1337.7,1060.3 1346.1,1060.3 1354.6,1055.4 1363.1,1055.4 1371.5,1048.0 1380.0,1048.0 1388.5,1052.9 1397.0,1052.9 1405.4,1052.9 1413.9,1052.9 1422.4,1052.9 1430.8,1052.9 1439.3,1045.5 1447.8,1057.8 1456.2,1060.3 1464.7,1060.3 1473.2,1060.3 1481.7,1060.3 1490.1,1060.3 1498.6,1055.4 1507.1,1059.1 1515.5,1055.4 1524.0,1055.4 1532.5,1054.1 1540.9,1051.7 1549.4,1050.4 1557.9,1050.4 1566.4,1050.4 1574.8,1050.4 1583.3,1050.4 1591.8,1055.4 1600.2,1059.1 1608.7,1059.1 1617.2,1059.1 1625.6,1059.1"/>
<polyline class="ln" stroke="#9966ff" points="75.6,1065.2 84.1,1065.2 92.6,1065.2 101.0,1065.2 109.5,1070.2 118.0,1070.2 126.4,1069.0 134.9,1072.7 143.4,1072.7 151.9,1072.7 160.3,1072.7 168.8,1072.7 177.3,1075.1 185.7,1075.1 194.2,1075.1 202.7,1077.6 211.2,1077.6 219.6,1077.6 228.1,1077.6 236.6,1077.6 245.0,1076.4 253.5,1073.9 262.0,1072.7 270.4,1071.4 278.9,1070.2 287.4,1070.2 295.9,1072.7 304.3,1072.7 312.8,1070.2 321.3,1073.9 329.7,1072.7 338.2,1072.7 346.7,1072.7 355.1,1072.7 363.6,1072.7 372.1,1070.2 380.6,1065.2 389.0,1065.2 397.5,1065.2 406.0,1065.2 414.4,1065.2 422.9,1065.2 431.4,1067.7 439.8,1072.7 448.3,1077.6 456.8,1080.1 465.2,1080.1 473.7,1085.0 482.2,1080.1 490.7,1080.1 499.1,1080.1 507.6,1080.1 516.1,1085.0 524.5,1085.0 533.0,1085.0 541.5,1085.0 550.0,1085.0 558.4,1080.1 566.9,1072.7 575.4,1072.7 583.8,1072.7 592.3,1072.7 600.8,1072.7 609.2,1072.7 617.7,1076.4 626.2,1078.8 634.7,1078.8 643.1,1075.1 651.6,1075.1 660.1,1077.6 668.5,1080.1 677.0,1085.0 685.5,1085.0 693.9,1085.0 702.4,1085.0 710.9,1085.0 719.4,1075.1 727.8,1075.1 736.3,1072.7 744.8,1072.7 753.2,1072.7 761.7,1070.2 770.2,1069.0 778.6,1067.7 787.1,1067.7 795.6,1067.7 804.1,1067.7 812.5,1067.7 821.0,1067.7 829.5,1072.7 837.9,1072.7 846.4,1072.7 854.9,1071.4 863.3,1066.5 871.8,1066.5 880.3,1065.2 888.8,1065.2 897.2,1069.0 905.7,1067.7 914.2,1070.2 922.6,1070.2 931.1,1070.2 939.6,1067.7 948.0,1065.2 956.5,1060.3 965.0,1064.0 973.5,1062.8 981.9,1062.8 990.4,1062.8 998.9,1065.2 1007.3,1065.2 1015.8,1065.2 1024.3,1065.2 1032.7,1065.2 1041.2,1064.0 1049.7,1060.3 1058.2,1060.3 1066.6,1062.8 1075.1,1065.2 1083.6,1065.2 1092.0,1070.2 1100.5,1072.7 1109.0,1070.2 1117.4,1065.2 1125.9,1065.2 1134.4,1065.2 1142.8,1065.2 1151.3,1060.3 1159.8,1060.3 1168.3,1060.3 1176.7,1060.3 1185.2,1060.3 1193.7,1060.3 1202.1,1065.2 1210.6,1065.2 1219.1,1067.7 1227.6,1067.7 1236.0,1067.7 1244.5,1067.7 1253.0,1067.7 1261.4,1067.7 1269.9,1070.2 1278.4,1072.7 1286.8,1072.7 1295.3,1070.2 1303.8,1067.7 1312.2,1070.2 1320.7,1065.2 1329.2,1070.2 1337.7,1069.0 1346.1,1069.0 1354.6,1069.0 1363.1,1069.0 1371.5,1072.7 1380.0,1072.7 1388.5,1072.7 1397.0,1072.7 1405.4,1072.7 1413.9,1072.7 1422.4,1072.7 1430.8,1071.4 1439.3,1065.2 1447.8,1062.8 1456.2,1062.8 1464.7,1062.8 1473.2,1062.8 1481.7,1062.8 1490.1,1061.5 1498.6,1060.3 1507.1,1065.2 1515.5,1069.0 1524.0,1069.0 1532.5,1065.2 1540.9,1065.2 1549.4,1065.2 1557.9,1065.2 1566.4,1060.3 1574.8,1060.3 1583.3,1060.3 1591.8,1052.9 1600.2,1061.5 1608.7,1062.8 1617.2,1064.0 1625.6,1064.0"/>
<polyline class="ln" stroke="#0b6b1a" points="1498.6,1075.1 1507.1,1075.1 1515.5,1077.6 1524.0,1077.6 1532.5,1077.6 1540.9,1077.6 1549.4,1076.4 1557.9,1076.4 1566.4,1076.4 1574.8,1076.4 1583.3,1072.7 1591.8,1070.2 1600.2,1067.7 1608.7,1067.7 1617.2,1070.2 1625.6,1072.7"/>
<polyline class="ln" stroke="#990000" points="75.6,1073.9 84.1,1073.9 92.6,1076.4 101.0,1075.1 109.5,1073.9 118.0,1073.9 126.4,1070.2 134.9,1070.2 143.4,1073.9 151.9,1070.2 160.3,1070.2 168.8,1070.2 177.3,1070.2 185.7,1070.2 194.2,1072.7 202.7,1075.1 211.2,1075.1 219.6,1075.1 228.1,1075.1 236.6,1075.1 245.0,1078.8 253.5,1080.1 262.0,1078.8 270.4,1082.5 278.9,1085.0 287.4,1085.0 295.9,1082.5 304.3,1081.3 312.8,1082.5 321.3,1082.5 329.7,1080.1 338.2,1077.6 346.7,1077.6 355.1,1073.9 363.6,1070.2 372.1,1070.2 380.6,1070.2 389.0,1070.2 397.5,1070.2 406.0,1070.2 414.4,1070.2 422.9,1070.2 431.4,1070.2 439.8,1070.2 448.3,1067.7 456.8,1067.7 465.2,1065.2 473.7,1067.7 482.2,1069.0 490.7,1067.7 499.1,1065.2 507.6,1065.2 516.1,1067.7 524.5,1067.7 533.0,1067.7 541.5,1067.7 550.0,1070.2 558.4,1072.7 566.9,1072.7 575.4,1075.1 583.8,1072.7 592.3,1072.7 600.8,1072.7 609.2,1072.7 617.7,1078.8 626.2,1073.9 634.7,1072.7 643.1,1065.2 651.6,1065.2 660.1,1065.2 668.5,1070.2 677.0,1070.2 685.5,1070.2 693.9,1070.2 702.4,1072.7 710.9,1072.7 719.4,1080.1 727.8,1082.5 736.3,1082.5 744.8,1082.5 753.2,1082.5 761.7,1080.1 770.2,1080.1 778.6,1077.6 787.1,1077.6 795.6,1076.4 804.1,1076.4 812.5,1075.1 821.0,1070.2 829.5,1072.7 837.9,1072.7 846.4,1072.7 854.9,1078.8 863.3,1076.4 871.8,1076.4 880.3,1075.1 888.8,1075.1 897.2,1075.1 905.7,1070.2 914.2,1067.7 922.6,1065.2 931.1,1065.2 939.6,1065.2 948.0,1065.2 956.5,1065.2 965.0,1067.7 973.5,1069.0 981.9,1070.2 990.4,1070.2 998.9,1072.7 1007.3,1072.7 1015.8,1072.7 1024.3,1075.1 1032.7,1080.1 1041.2,1080.1 1049.7,1077.6 1058.2,1077.6 1066.6,1077.6 1075.1,1077.6 1083.6,1080.1 1092.0,1075.1 1100.5,1077.6 1109.0,1075.1 1117.4,1075.1 1125.9,1075.1 1134.4,1075.1 1142.8,1075.1 1151.3,1075.1 1159.8,1075.1 1168.3,1075.1 1176.7,1075.1 1185.2,1075.1 1193.7,1073.9 1202.1,1075.1 1210.6,1081.3 1219.1,1081.3 1227.6,1081.3 1236.0,1081.3 1244.5,1081.3 1253.0,1081.3 1261.4,1081.3 1269.9,1083.8 1278.4,1081.3 1286.8,1081.3 1295.3,1082.5 1303.8,1080.1 1312.2,1077.6 1320.7,1077.6 1329.2,1076.4 1337.7,1075.1 1346.1,1075.1 1354.6,1073.9 1363.1,1073.9 1371.5,1069.0 1380.0,1066.5 1388.5,1065.2 1397.0,1065.2 1405.4,1065.2 1413.9,1065.2 1422.4,1060.3 1430.8,1059.1 1439.3,1052.9 1447.8,1060.3 1456.2,1065.2 1464.7,1065.2 1473.2,1065.2 1481.7,1065.2 1490.1,1065.2 1498.6,1070.2 1507.1,1078.8 1515.5,1075.1 1524.0,1075.1 1532.5,1072.7 1540.9,1072.7 1549.4,1070.2 1557.9,1070.2 1566.4,1075.1 1574.8,1075.1 1583.3,1075.1 1591.8,1069.0 1600.2,1065.2 1608.7,1065.2 1617.2,1066.5 1625.6,1067.7"/>
<polyline class="ln" stroke="#6670ff" points="75.6,1080.1 84.1,1080.1 92.6,1080.1 101.0,1077.6 109.5,1080.1 118.0,1080.1 126.4,1080.1 134.9,1080.1 143.4,1077.6 151.9,1077.6 160.3,1077.6 168.8,1077.6 177.3,1082.5 185.7,1082.5 194.2,1082.5 202.7,1082.5 211.2,1082.5 219.6,1082.5 228.1,1082.5 236.6,1082.5 245.0,1082.5 253.5,1085.0 262.0,1080.1 270.4,1080.1 278.9,1080.1 287.4,1080.1 295.9,1077.6 304.3,1077.6 312.8,1077.6 321.3,1077.6 329.7,1075.1 338.2,1072.7 346.7,1072.7 355.1,1072.7 363.6,1076.4 372.1,1080.1 380.6,1080.1 389.0,1080.1 397.5,1080.1 406.0,1080.1 414.4,1080.1 422.9,1080.1 431.4,1075.1 439.8,1075.1 448.3,1077.6 456.8,1077.6 465.2,1075.1 473.7,1077.6 482.2,1075.1 490.7,1077.6 499.1,1077.6 507.6,1075.1 516.1,1077.6 524.5,1077.6 533.0,1077.6 541.5,1077.6 550.0,1080.1 558.4,1077.6 566.9,1077.6 575.4,1080.1 583.8,1077.6 592.3,1077.6 600.8,1077.6 609.2,1077.6 617.7,1071.4 626.2,1065.2 634.7,1064.0 643.1,1054.1 651.6,1055.4 660.1,1052.9 668.5,1060.3 677.0,1065.2 685.5,1065.2 693.9,1065.2 702.4,1060.3 710.9,1060.3 719.4,1065.2 727.8,1070.2 736.3,1065.2 744.8,1065.2 753.2,1065.2 761.7,1067.7 770.2,1067.7 778.6,1070.2 787.1,1072.7 795.6,1072.7 804.1,1072.7 812.5,1070.2 821.0,1075.1 829.5,1077.6 837.9,1077.6 846.4,1077.6 854.9,1075.1 863.3,1072.7 871.8,1072.7 880.3,1070.2 888.8,1070.2 897.2,1070.2 905.7,1072.7 914.2,1075.1 922.6,1075.1 931.1,1075.1 939.6,1072.7 948.0,1072.7 956.5,1075.1 965.0,1072.7 973.5,1077.6 981.9,1077.6 990.4,1077.6 998.9,1077.6 1007.3,1077.6 1015.8,1077.6 1024.3,1075.1 1032.7,1067.7 1041.2,1065.2 1049.7,1065.2 1058.2,1060.3 1066.6,1065.2 1075.1,1065.2 1083.6,1069.0 1092.0,1070.2 1100.5,1067.7 1109.0,1075.1 1117.4,1072.7 1125.9,1070.2 1134.4,1070.2 1142.8,1070.2 1151.3,1070.2 1159.8,1070.2 1168.3,1070.2 1176.7,1070.2 1185.2,1070.2 1193.7,1071.4 1202.1,1080.1 1210.6,1077.6 1219.1,1077.6 1227.6,1077.6 1236.0,1077.6 1244.5,1077.6 1253.0,1077.6 1261.4,1077.6 1269.9,1077.6 1278.4,1077.6 1286.8,1076.4 1295.3,1075.1 1303.8,1073.9 1312.2,1072.7 1320.7,1077.6 1329.2,1075.1 1337.7,1072.7 1346.1,1072.7 1354.6,1069.0 1363.1,1067.7 1371.5,1065.2 1380.0,1065.2 1388.5,1072.7 1397.0,1072.7 1405.4,1072.7 1413.9,1072.7 1422.4,1077.6 1430.8,1077.6 1439.3,1077.6 1447.8,1077.6 1456.2,1077.6 1464.7,1077.6 1473.2,1077.6 1481.7,1077.6 1490.1,1077.6 1498.6,1080.1 1507.1,1080.1 1515.5,1075.1 1524.0,1075.1 1532.5,1072.7 1540.9,1073.9 1549.4,1075.1 1557.9,1075.1 1566.4,1075.1 1574.8,1075.1 1583.3,1075.1 1591.8,1075.1 1600.2,1072.7 1608.7,1072.7 1617.2,1072.7 1625.6,1077.6"/>
</g>
<text class="lab" x="1684.3" y="393.4" fill="#009900" textLength="138.9" lengthAdjust="spacingAndGlyphs">Biden</text>
<text class="lab" x="1684.2" y="658.3" fill="#4488ff" textLength="197.0" lengthAdjust="spacingAndGlyphs">Sanders</text>
<text class="lab" x="1686.2" y="728.1" fill="#996600" textLength="187.0" lengthAdjust="spacingAndGlyphs">Warren</text>
<text class="lab" x="1684.9" y="868.3" fill="#990099" textLength="231.0" lengthAdjust="spacingAndGlyphs">Buttigieg</text>
<text class="lab" x="1684.9" y="967.9" fill="#c4b40e" textLength="269.0" lengthAdjust="spacingAndGlyphs">Bloomberg</text>
<text class="title" y="106.1" font-size="102.3" stroke-width="1.2"><tspan x="380.66" textLength="568.45" lengthAdjust="spacingAndGlyphs">Democratic</tspan> <tspan x="974.14" textLength="388.21" lengthAdjust="spacingAndGlyphs">Primary</tspan> <tspan x="1387.73" textLength="231.29" lengthAdjust="spacingAndGlyphs">Race</tspan></text>
<text class="title" y="176.2" font-size="51.4" stroke-width="0.0"><tspan x="648.06" textLength="232.84" lengthAdjust="spacingAndGlyphs">RealClear</tspan> <tspan x="894.00" textLength="180.41" lengthAdjust="spacingAndGlyphs">Politics</tspan> <tspan x="1084.12" textLength="267.11" lengthAdjust="spacingAndGlyphs">Aggregate</tspan></text>
<rect x="1.5" y="1.5" width="2010" height="1190" fill="none" stroke="#000" stroke-width="3"/>
</svg>
</body></html>
